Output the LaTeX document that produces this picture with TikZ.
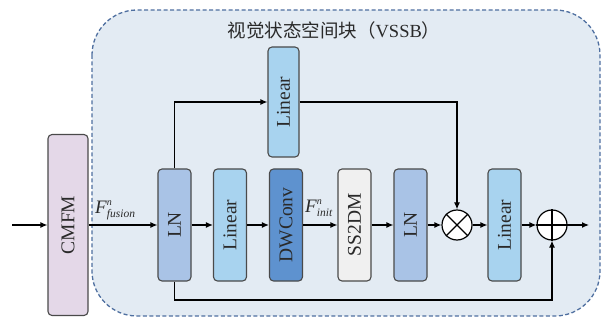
\documentclass[tikz,border=0pt]{standalone}
\usepackage{fontspec}
\setmainfont{Liberation Serif}
\newfontfamily\cjk{Noto Sans CJK SC}
\usetikzlibrary{arrows.meta,calc}
\definecolor{bgblue}{HTML}{E3EBF3}
\definecolor{dashblue}{HTML}{4F6FA0}
\definecolor{cmfmcol}{HTML}{E4D8E8}
\definecolor{lncol}{HTML}{A9C3E6}
\definecolor{lincol}{HTML}{A8D3EF}
\definecolor{dwcol}{HTML}{5E92CF}
\definecolor{sscol}{HTML}{F0F0F0}
\definecolor{edgecol}{HTML}{4A4A4A}
\definecolor{txtcol}{HTML}{2A2A2A}
\newcommand{\flabel}[2]{{\fontsize{19}{19}\selectfont\textit{F}}\rlap{\raisebox{8pt}{\fontsize{10}{10}\selectfont\textit{#1}}}\raisebox{-4pt}{\fontsize{11.5}{11.5}\selectfont\textit{#2}}}
\begin{document}
\begin{tikzpicture}[x=1pt,y=-1pt,
  blk/.style={draw=edgecol,line width=1.1pt,rounded corners=4pt,minimum width=33pt,minimum height=112pt,inner sep=0pt,text=txtcol,font=\fontsize{19.5}{19.5}\selectfont},
  opnode/.style={draw=black,line width=1.2pt,circle,fill=white,minimum size=30pt,inner sep=0pt},
  arr/.style={line width=1.2pt,-{Latex[length=7pt,width=6pt]}},
  lbl/.style={anchor=base west,inner sep=0pt,text=txtcol}]
\useasboundingbox (0,0) rectangle (610,320);
% outer dashed block
\draw[dashblue,fill=bgblue,line width=1.3pt,dash pattern=on 4pt off 2.5pt,rounded corners=45pt] (92,10) rectangle (600,316);
\node[text=txtcol,font=\fontsize{18.5}{18.5}\selectfont] (title) at (334,30) {{\cjk 视觉状态空间块（}VSSB{\cjk ）}};
% boxes
\node[blk,fill=cmfmcol,minimum width=40pt,minimum height=181pt] (cmfm) at (68,225) {\rotatebox{90}{CMFM}};
\node[blk,fill=lncol] (ln1) at (174.5,225) {\rotatebox{90}{LN}};
\node[blk,fill=lincol] (lin1) at (230,225) {\rotatebox{90}{Linear}};
\node[blk,fill=dwcol] (dw) at (286,225) {\rotatebox{90}{DWConv}};
\node[blk,fill=sscol] (ss) at (354.5,225) {\rotatebox{90}{SS2DM}};
\node[blk,fill=lncol] (ln2) at (410.5,225) {\rotatebox{90}{LN}};
\node[blk,fill=lincol] (lin2) at (504.5,225) {\rotatebox{90}{Linear}};
\node[blk,fill=lincol,minimum width=31pt,minimum height=110pt] (lin0) at (283.5,102) {\rotatebox{90}{Linear}};
\node[opnode] (mul) at (457,225) {};
\draw[line width=1.2pt] (mul.north west) -- (mul.south east) (mul.north east) -- (mul.south west);
\node[opnode] (add) at (552,225) {};
\draw[line width=1.2pt] (add.north) -- (add.south) (add.west) -- (add.east);
% labels
\node[lbl] (ffus) at (95,214) {\flabel{n}{fusion}};
\node[lbl] (finit) at (305,213) {\flabel{n}{init}};
% connectors
\coordinate (in) at (12,225);
\coordinate (out) at (589,225);
\coordinate (bl) at (174.5,300);
\draw[arr] (in) -- (cmfm.west);
\draw[arr] (cmfm.east) -- (ln1.west);
\draw[arr] (ln1.east) -- (lin1.west);
\draw[arr] (lin1.east) -- (dw.west);
\draw[arr] (dw.east) -- (ss.west);
\draw[arr] (ss.east) -- (ln2.west);
\draw[arr] (ln2.east) -- (mul.west);
\draw[arr] (mul.east) -- (lin2.west);
\draw[arr] (lin2.east) -- (add.west);
\draw[arr] (add.east) -- (out);
\draw[arr] (ln1.north) |- (lin0.west);
\draw[arr] (lin0.east) -| (mul.north);
\draw[arr] (ln1.south) -- (bl) -| (add.south);
\end{tikzpicture}
\end{document}
